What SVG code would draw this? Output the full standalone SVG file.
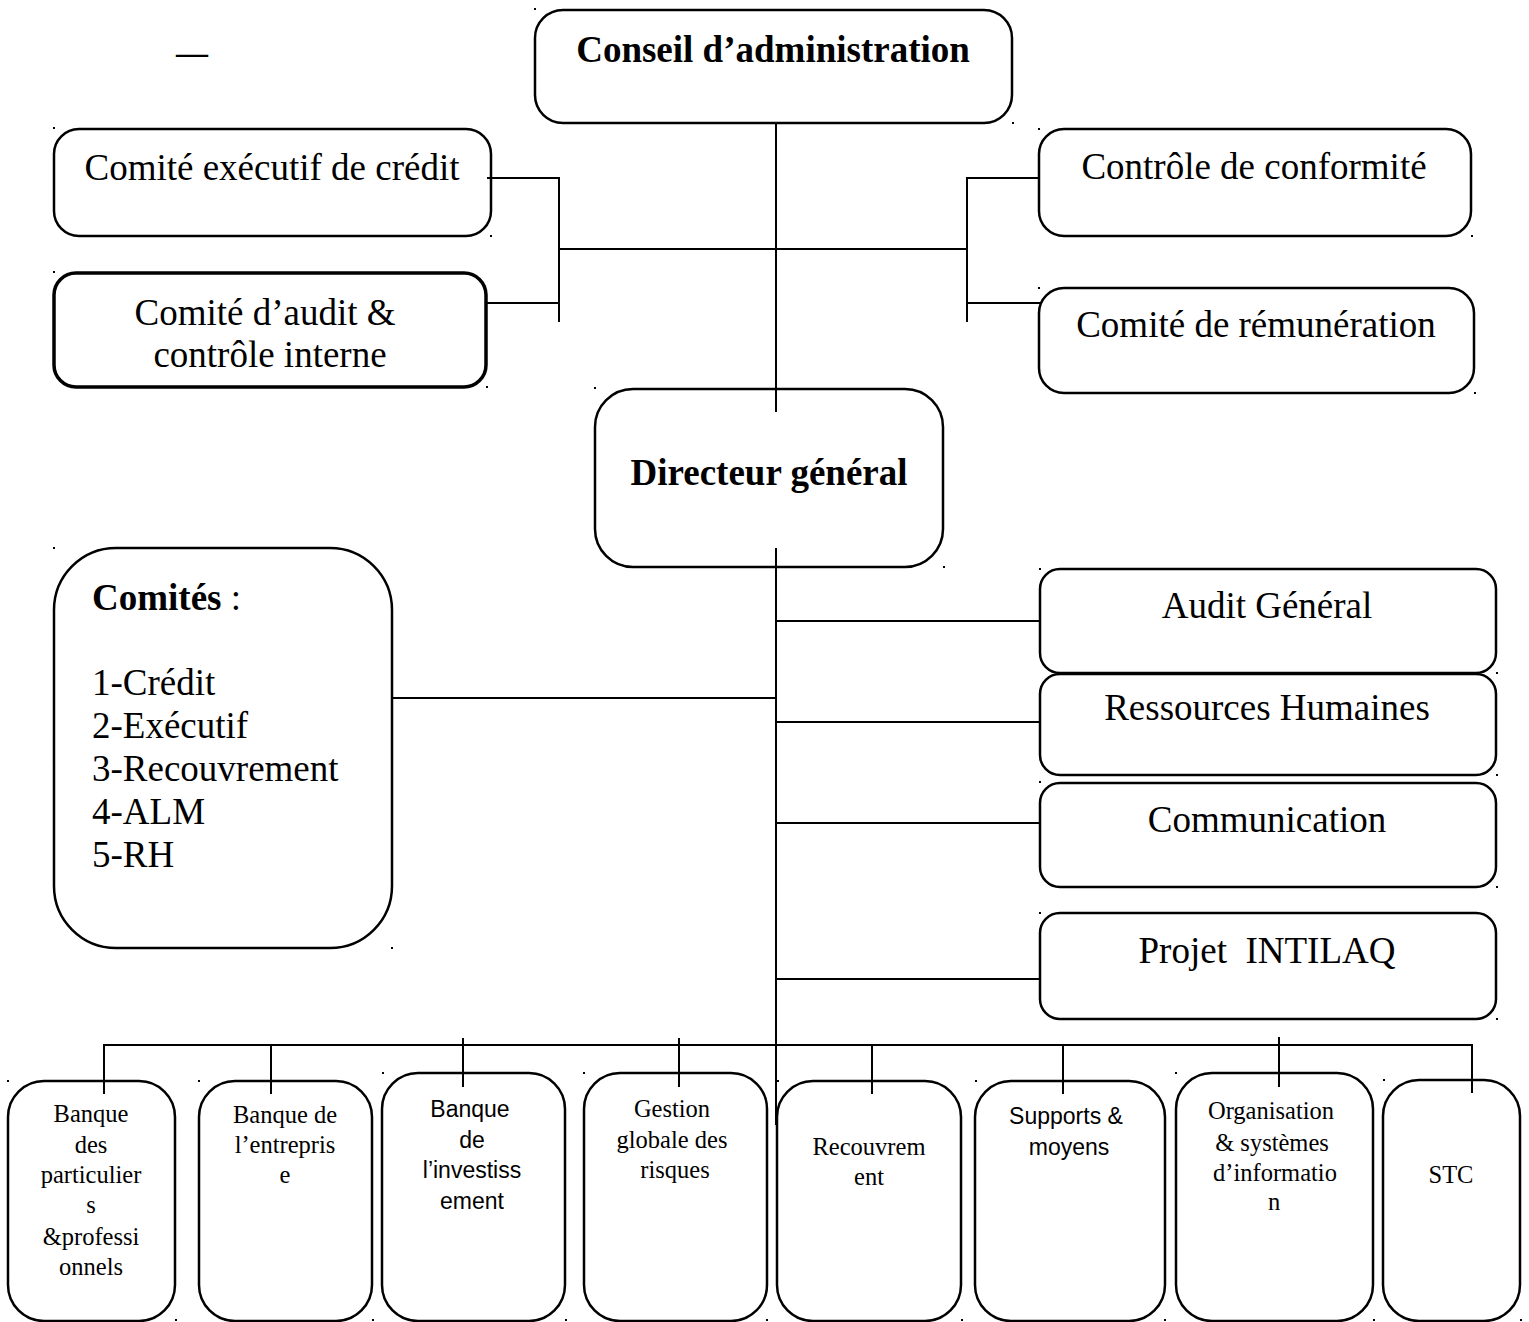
<svg xmlns="http://www.w3.org/2000/svg" width="1529" height="1322" viewBox="0 0 1529 1322">
<style>
.bx{fill:#fff;stroke:#000;stroke-width:2.5}
.bxt{fill:#fff;stroke:#000;stroke-width:3.5}
.ln{stroke:#000;stroke-width:2;fill:none}
.t{font-family:"Liberation Serif","Times New Roman",serif;font-size:37px;fill:#000;text-anchor:middle}
.tb{font-family:"Liberation Serif","Times New Roman",serif;font-size:37px;font-weight:bold;fill:#000;text-anchor:middle}
.ts{font-family:"Liberation Serif","Times New Roman",serif;font-size:24.5px;fill:#000;text-anchor:middle}
.tss{font-family:"Liberation Sans",Arial,sans-serif;font-size:23px;fill:#000;text-anchor:middle}
.mk{fill:#000}
</style>
<rect width="1529" height="1322" fill="#fff"/>
<text x="176" y="63" font-family="Liberation Serif, serif" font-size="32" font-weight="bold">—</text>

<g id="conseil">
<rect class="bx" x="535" y="10" width="477" height="113" rx="28"/>
<text class="tb" x="773" y="62">Conseil d’administration</text>
</g>
<g id="comite-executif-credit">
<rect class="bx" x="54" y="129" width="437" height="107" rx="25"/>
<text class="t" x="272" y="180">Comité exécutif de crédit</text>
</g>
<g id="comite-audit">
<rect class="bxt" x="54" y="273" width="432" height="114" rx="22"/>
<text class="t" x="265" y="325">Comité d’audit &amp;</text>
<text class="t" x="270" y="367">contrôle interne</text>
</g>
<g id="controle-conformite">
<rect class="bx" x="1039" y="129" width="432" height="107" rx="25"/>
<text class="t" x="1254" y="179">Contrôle de conformité</text>
</g>
<g id="comite-remuneration">
<rect class="bx" x="1039" y="288" width="435" height="105" rx="25"/>
<text class="t" x="1256" y="337">Comité de rémunération</text>
</g>
<g id="directeur">
<rect class="bx" x="595" y="389" width="348" height="178" rx="38"/>
<text class="tb" x="769" y="485">Directeur général</text>
</g>
<g id="comites">
<rect class="bx" x="54" y="548" width="338" height="400" rx="62"/>
<text x="92" y="610" font-family="Liberation Serif, serif" font-size="37"><tspan font-weight="bold">Comités</tspan> :</text>
<text x="92" y="695" font-family="Liberation Serif, serif" font-size="37">1-Crédit</text>
<text x="92" y="738" font-family="Liberation Serif, serif" font-size="37">2-Exécutif</text>
<text x="92" y="781" font-family="Liberation Serif, serif" font-size="37">3-Recouvrement</text>
<text x="92" y="824" font-family="Liberation Serif, serif" font-size="37">4-ALM</text>
<text x="92" y="867" font-family="Liberation Serif, serif" font-size="37">5-RH</text>
</g>
<g id="audit-general">
<rect class="bx" x="1040" y="569" width="456" height="104" rx="20"/>
<text class="t" x="1267" y="618">Audit Général</text>
</g>
<g id="ressources-humaines">
<rect class="bx" x="1040" y="674" width="456" height="101" rx="20"/>
<text class="t" x="1267" y="720">Ressources Humaines</text>
</g>
<g id="communication">
<rect class="bx" x="1040" y="783" width="456" height="104" rx="20"/>
<text class="t" x="1267" y="832">Communication</text>
</g>
<g id="projet-intilaq">
<rect class="bx" x="1040" y="913" width="456" height="106" rx="20"/>
<text class="t" x="1267" y="963" xml:space="preserve">Projet  INTILAQ</text>
</g>

<g id="banque-particuliers">
<rect class="bx" x="8" y="1081" width="167" height="240" rx="36"/>
<text class="ts" x="91" y="1122">Banque</text>
<text class="ts" x="91" y="1153">des</text>
<text class="ts" x="91" y="1183">particulier</text>
<text class="ts" x="91" y="1213">s</text>
<text class="ts" x="91" y="1245">&amp;professi</text>
<text class="ts" x="91" y="1275">onnels</text>
</g>
<g id="banque-entreprise">
<rect class="bx" x="199" y="1081" width="173" height="240" rx="36"/>
<text class="ts" x="285" y="1123">Banque de</text>
<text class="ts" x="285" y="1153">l’entrepris</text>
<text class="ts" x="285" y="1183">e</text>
</g>
<g id="banque-investissement">
<rect class="bx" x="382" y="1073" width="183" height="248" rx="36"/>
<text class="tss" x="470" y="1117">Banque</text>
<text class="tss" x="472" y="1148">de</text>
<text class="tss" x="472" y="1178">l’investiss</text>
<text class="tss" x="472" y="1209">ement</text>
</g>
<g id="gestion-risques">
<rect class="bx" x="584" y="1073" width="183" height="248" rx="36"/>
<text class="ts" x="672" y="1117">Gestion</text>
<text class="ts" x="672" y="1148">globale des</text>
<text class="ts" x="675" y="1178">risques</text>
</g>
<g id="recouvrement">
<rect class="bx" x="777" y="1081" width="184" height="240" rx="36"/>
<text class="ts" x="869" y="1155">Recouvrem</text>
<text class="ts" x="869" y="1185">ent</text>
</g>
<g id="supports-moyens">
<rect class="bx" x="975" y="1081" width="190" height="240" rx="36"/>
<text class="tss" x="1066" y="1124">Supports &amp;</text>
<text class="tss" x="1069" y="1155">moyens</text>
</g>
<g id="organisation-si">
<rect class="bx" x="1176" y="1073" width="197" height="248" rx="36"/>
<text class="ts" x="1271" y="1119">Organisation</text>
<text class="ts" x="1272" y="1151">&amp; systèmes</text>
<text class="ts" x="1275" y="1181">d’informatio</text>
<text class="ts" x="1274" y="1210">n</text>
</g>
<g id="stc">
<rect class="bx" x="1383" y="1080" width="137" height="241" rx="36"/>
<text class="ts" x="1451" y="1183">STC</text>
</g>

<g id="connectors">
<line class="ln" x1="776" y1="123" x2="776" y2="412"/>
<line class="ln" x1="559" y1="249" x2="967" y2="249"/>
<polyline class="ln" points="487,178 559,178 559,322"/>
<line class="ln" x1="487" y1="303" x2="559" y2="303"/>
<polyline class="ln" points="1040,178 967,178 967,322"/>
<line class="ln" x1="967" y1="303" x2="1040" y2="303"/>
<line class="ln" x1="776" y1="548" x2="776" y2="1125"/>
<line class="ln" x1="392" y1="698" x2="776" y2="698"/>
<line class="ln" x1="776" y1="621" x2="1040" y2="621"/>
<line class="ln" x1="776" y1="722" x2="1040" y2="722"/>
<line class="ln" x1="776" y1="823" x2="1040" y2="823"/>
<line class="ln" x1="776" y1="979" x2="1040" y2="979"/>
<polyline class="ln" points="104,1094 104,1045 1472,1045 1472,1093"/>
<line class="ln" x1="271" y1="1045" x2="271" y2="1094"/>
<line class="ln" x1="463" y1="1038" x2="463" y2="1087"/>
<line class="ln" x1="679" y1="1038" x2="679" y2="1087"/>
<line class="ln" x1="872" y1="1045" x2="872" y2="1094"/>
<line class="ln" x1="1063" y1="1045" x2="1063" y2="1094"/>
<line class="ln" x1="1279" y1="1037" x2="1279" y2="1087"/>
</g>

<g id="anchors">
<rect class="mk" x="534" y="8" width="2" height="2"/><rect class="mk" x="1012" y="122" width="2" height="2"/>
<rect class="mk" x="53" y="127" width="2" height="2"/><rect class="mk" x="490" y="235" width="2" height="2"/>
<rect class="mk" x="53" y="271" width="2" height="2"/><rect class="mk" x="486" y="386" width="2" height="2"/>
<rect class="mk" x="1038" y="128" width="2" height="2"/><rect class="mk" x="1471" y="235" width="2" height="2"/>
<rect class="mk" x="1038" y="287" width="2" height="2"/><rect class="mk" x="1474" y="392" width="2" height="2"/>
<rect class="mk" x="594" y="387" width="2" height="2"/><rect class="mk" x="943" y="566" width="2" height="2"/>
<rect class="mk" x="53" y="547" width="2" height="2"/><rect class="mk" x="391" y="947" width="2" height="2"/>
<rect class="mk" x="1039" y="568" width="2" height="2"/><rect class="mk" x="1496" y="672" width="2" height="2"/>
<rect class="mk" x="1496" y="774" width="2" height="2"/>
<rect class="mk" x="1039" y="781" width="2" height="2"/><rect class="mk" x="1496" y="886" width="2" height="2"/>
<rect class="mk" x="1039" y="912" width="2" height="2"/><rect class="mk" x="1496" y="1018" width="2" height="2"/>
<rect class="mk" x="7" y="1080" width="2" height="2"/><rect class="mk" x="175" y="1319" width="2" height="2"/>
<rect class="mk" x="198" y="1080" width="2" height="2"/><rect class="mk" x="372" y="1319" width="2" height="2"/>
<rect class="mk" x="382" y="1072" width="2" height="2"/><rect class="mk" x="565" y="1319" width="2" height="2"/>
<rect class="mk" x="583" y="1072" width="2" height="2"/><rect class="mk" x="766" y="1319" width="2" height="2"/>
<rect class="mk" x="777" y="1080" width="2" height="2"/><rect class="mk" x="961" y="1319" width="2" height="2"/>
<rect class="mk" x="975" y="1080" width="2" height="2"/><rect class="mk" x="1164" y="1319" width="2" height="2"/>
<rect class="mk" x="1175" y="1072" width="2" height="2"/><rect class="mk" x="1373" y="1319" width="2" height="2"/>
<rect class="mk" x="1383" y="1079" width="2" height="2"/><rect class="mk" x="1520" y="1319" width="2" height="2"/>
</g>
</svg>
